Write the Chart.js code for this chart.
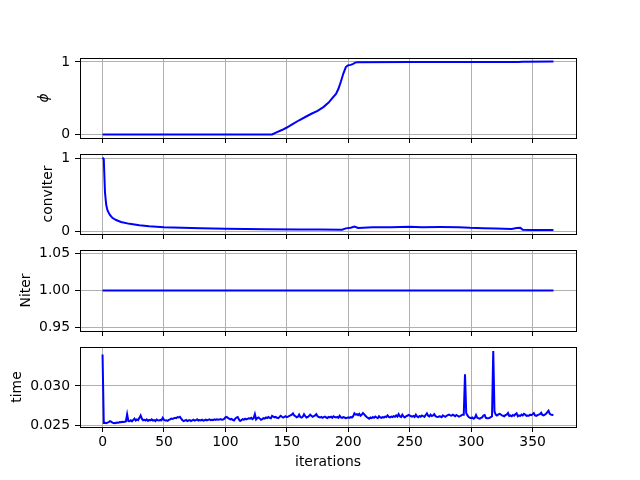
<!DOCTYPE html>
<html>
<head>
<meta charset="utf-8">
<script src="https://cdn.jsdelivr.net/npm/chart.js@4/dist/chart.umd.min.js"></script>
<style>
  body { margin: 0; background: #fff; }
  #wrap { position: relative; width: 640px; height: 480px; }
  #wrap canvas { position: absolute; left: 0; top: 0; }
</style>
</head>
<body>
<div id="wrap">
  <canvas id="phiChart" width="640" height="480"></canvas>
  <canvas id="convChart" width="640" height="480"></canvas>
  <canvas id="nIterChart" width="640" height="480"></canvas>
  <canvas id="timeChart" width="640" height="480"></canvas>
</div>
<script>
const xTicks = [0, 50, 100, 150, 200, 250, 300, 350];
const xTickLabels = ["0", "50", "100", "150", "200", "250", "300", "350"];

// phi (sparse read-off points)
const phiIters = [0, 138, 142, 146, 150, 155, 160, 165, 170, 175, 180, 184, 187, 190, 192, 194, 196, 198, 200, 202, 204, 206, 208, 250, 338, 342, 367];
const phiValues = [0, 0, 0.03, 0.06, 0.095, 0.145, 0.195, 0.24, 0.285, 0.325, 0.38, 0.44, 0.5, 0.56, 0.63, 0.73, 0.84, 0.93, 0.955, 0.96, 0.975, 0.993, 0.998, 0.999, 1.0, 1.004, 1.005];
const phiTicks = [0, 1];
const phiTickLabels = ["0", "1"];

// convIter
const convIters = [0, 1, 2, 3, 4, 5, 6, 8, 11, 15, 22, 30, 38, 50, 65, 80, 100, 133, 160, 177, 195, 198, 202, 205, 208, 212, 220, 235, 250, 260, 275, 290, 299, 310, 320, 333, 337, 340, 342, 350, 367];
const convValues = [1.009, 0.99, 0.53, 0.36, 0.29, 0.255, 0.225, 0.185, 0.155, 0.128, 0.102, 0.082, 0.07, 0.057, 0.048, 0.041, 0.036, 0.028, 0.025, 0.023, 0.022, 0.04, 0.048, 0.066, 0.046, 0.05, 0.054, 0.055, 0.062, 0.056, 0.058, 0.055, 0.047, 0.042, 0.037, 0.033, 0.045, 0.048, 0.02, 0.018, 0.018];
const convTicks = [0, 1];
const convTickLabels = ["0", "1"];

// Niter
const nIterIters = [0, 367];
const nIterValues = [1, 1];
const nIterTicks = [0.95, 1.0, 1.05];
const nIterTickLabels = ["0.95", "1.00", "1.05"];

// time, one value per iteration
const iterations = Array.from({ length: 368 }, (_, i) => i);
const timeValues = [
  0.03396, 0.02536, 0.02538, 0.02534, 0.02540, 0.02545, 0.02558, 0.02552, 0.02540, 0.02536,
  0.02532, 0.02538, 0.02542, 0.02540, 0.02546, 0.02544, 0.02550, 0.02548, 0.02552, 0.02556,
  0.02646, 0.02560, 0.02558, 0.02570, 0.02556, 0.02574, 0.02590, 0.02566, 0.02580, 0.02572,
  0.02600, 0.02630, 0.02590, 0.02570, 0.02576, 0.02566, 0.02580, 0.02562, 0.02574, 0.02568,
  0.02580, 0.02566, 0.02572, 0.02560, 0.02578, 0.02570, 0.02566, 0.02574, 0.02570, 0.02600,
  0.02576, 0.02566, 0.02570, 0.02562, 0.02574, 0.02580, 0.02590, 0.02586, 0.02594, 0.02600,
  0.02596, 0.02610, 0.02604, 0.02612, 0.02590, 0.02570, 0.02560, 0.02566, 0.02574, 0.02560,
  0.02566, 0.02572, 0.02560, 0.02568, 0.02576, 0.02564, 0.02570, 0.02582, 0.02566, 0.02572,
  0.02568, 0.02576, 0.02564, 0.02570, 0.02578, 0.02568, 0.02574, 0.02580, 0.02570, 0.02576,
  0.02572, 0.02580, 0.02574, 0.02582, 0.02576, 0.02578, 0.02584, 0.02576, 0.02580, 0.02586,
  0.02606, 0.02612, 0.02600, 0.02590, 0.02580, 0.02586, 0.02574, 0.02566, 0.02590, 0.02604,
  0.02610, 0.02580, 0.02560, 0.02570, 0.02584, 0.02576, 0.02590, 0.02580, 0.02586, 0.02594,
  0.02590, 0.02600, 0.02584, 0.02596, 0.02646, 0.02580, 0.02596, 0.02604, 0.02590, 0.02576,
  0.02584, 0.02596, 0.02590, 0.02604, 0.02598, 0.02610, 0.02600, 0.02594, 0.02624, 0.02616,
  0.02606, 0.02612, 0.02600, 0.02596, 0.02610, 0.02626, 0.02614, 0.02604, 0.02612, 0.02620,
  0.02608, 0.02614, 0.02624, 0.02630, 0.02640, 0.02656, 0.02630, 0.02620, 0.02606, 0.02614,
  0.02640, 0.02610, 0.02602, 0.02614, 0.02644, 0.02620, 0.02604, 0.02610, 0.02622, 0.02640,
  0.02626, 0.02612, 0.02620, 0.02630, 0.02646, 0.02620, 0.02610, 0.02604, 0.02612, 0.02600,
  0.02610, 0.02616, 0.02604, 0.02598, 0.02612, 0.02606, 0.02614, 0.02600, 0.02620, 0.02610,
  0.02604, 0.02612, 0.02600, 0.02626, 0.02606, 0.02600, 0.02610, 0.02604, 0.02596, 0.02600,
  0.02606, 0.02600, 0.02610, 0.02604, 0.02620, 0.02656, 0.02640, 0.02646, 0.02634, 0.02650,
  0.02626, 0.02640, 0.02660, 0.02644, 0.02626, 0.02610, 0.02600, 0.02590, 0.02604, 0.02596,
  0.02610, 0.02600, 0.02616, 0.02604, 0.02596, 0.02620, 0.02606, 0.02600, 0.02610, 0.02604,
  0.02616, 0.02610, 0.02630, 0.02612, 0.02606, 0.02616, 0.02610, 0.02622, 0.02614, 0.02630,
  0.02616, 0.02646, 0.02620, 0.02610, 0.02640, 0.02616, 0.02604, 0.02620, 0.02626, 0.02636,
  0.02630, 0.02620, 0.02616, 0.02624, 0.02612, 0.02640, 0.02616, 0.02608, 0.02624, 0.02614,
  0.02630, 0.02620, 0.02612, 0.02636, 0.02656, 0.02626, 0.02618, 0.02640, 0.02622, 0.02630,
  0.02646, 0.02620, 0.02614, 0.02610, 0.02620, 0.02616, 0.02608, 0.02630, 0.02620, 0.02612,
  0.02626, 0.02634, 0.02640, 0.02630, 0.02626, 0.02640, 0.02630, 0.02620, 0.02636, 0.02626,
  0.02616, 0.02622, 0.02630, 0.02640, 0.02640, 0.03146, 0.02660, 0.02630, 0.02610, 0.02600,
  0.02596, 0.02604, 0.02590, 0.02600, 0.02636, 0.02600, 0.02594, 0.02590, 0.02600, 0.02606,
  0.02630, 0.02636, 0.02600, 0.02596, 0.02594, 0.02600, 0.02610, 0.02620, 0.03440, 0.02680,
  0.02640, 0.02630, 0.02640, 0.02650, 0.02644, 0.02630, 0.02626, 0.02620, 0.02636, 0.02640,
  0.02660, 0.02624, 0.02630, 0.02620, 0.02636, 0.02626, 0.02644, 0.02656, 0.02620, 0.02630,
  0.02624, 0.02640, 0.02630, 0.02650, 0.02640, 0.02624, 0.02630, 0.02626, 0.02640, 0.02634,
  0.02646, 0.02660, 0.02630, 0.02624, 0.02634, 0.02640, 0.02646, 0.02664, 0.02636, 0.02630,
  0.02640, 0.02650, 0.02672, 0.02690, 0.02650, 0.02640, 0.02636, 0.02640
];
const timeTicks = [0.025, 0.03];
const timeTickLabels = ["0.025", "0.030"];

const FONT = "'DejaVu Sans', sans-serif";
const FS = 13.9;

// black box round each axes, like matplotlib spines
const frame = {
  id: "frame",
  afterDraw(chart) {
    const { ctx, chartArea: a } = chart;
    ctx.save();
    ctx.strokeStyle = "#000";
    ctx.lineWidth = 1;
    ctx.strokeRect(Math.round(a.left) + 0.5, Math.round(a.top) + 0.5,
      Math.round(a.right - a.left), Math.round(a.bottom - a.top));
    ctx.restore();
  },
};

function makePanel(id, xs, ys, cfg) {
  const points = xs.map((x, i) => ({ x: x, y: ys[i] }));
  const xH = cfg.showX ? 50 : 6;
  return new Chart(document.getElementById(id), {
    type: "line",
    data: {
      datasets: [{
        data: points,
        borderColor: "#0000ff",
        borderWidth: 2,
        pointRadius: 0,
        tension: 0,
        fill: false,
      }],
    },
    options: {
      responsive: false,
      animation: false,
      devicePixelRatio: 1,
      layout: { padding: { left: 0, right: 64, top: cfg.top, bottom: 480 - cfg.bottom - xH } },
      plugins: { legend: { display: false }, tooltip: { enabled: false } },
      scales: {
        x: {
          type: "linear",
          min: -18.35,
          max: 385.35,
          afterBuildTicks: (s) => { s.ticks = xTicks.map((v) => ({ value: v })); },
          afterFit: (s) => { s.height = xH; s.paddingLeft = 0; s.paddingRight = 0; },
          grid: { color: "#b0b0b0", lineWidth: 1, tickColor: "#000", tickLength: 5, tickWidth: 1 },
          border: { display: false },
          ticks: {
            display: cfg.showX,
            padding: 2,
            color: "#000",
            font: { family: FONT, size: FS },
            maxRotation: 0,
            callback: (v, i) => xTickLabels[i],
          },
          title: {
            display: cfg.showX,
            text: "iterations",
            color: "#000",
            font: { family: FONT, size: FS },
            padding: { top: 0, bottom: 6 },
          },
        },
        y: {
          type: "linear",
          min: cfg.min,
          max: cfg.max,
          afterBuildTicks: (s) => { s.ticks = cfg.ticks.map((v) => ({ value: v })); },
          afterFit: (s) => { s.width = 80; s.paddingTop = 0; s.paddingBottom = 0; },
          grid: { color: "#b0b0b0", lineWidth: 1, tickColor: "#000", tickLength: 5, tickWidth: 1 },
          border: { display: false },
          ticks: {
            padding: 5,
            color: "#000",
            font: { family: FONT, size: FS },
            callback: (v, i) => cfg.tickLabels[i],
          },
          title: {
            display: true,
            text: cfg.label,
            color: "#000",
            font: { family: FONT, size: FS, style: cfg.italic ? "italic" : "normal" },
            padding: { top: cfg.titlePad, bottom: 0 },
          },
        },
      },
    },
    plugins: [frame],
  });
}

makePanel("phiChart", phiIters, phiValues, {
  top: 58, bottom: 138, min: -0.05, max: 1.055,
  ticks: phiTicks, tickLabels: phiTickLabels, label: "ϕ", italic: true, titlePad: 36.5, showX: false,
});
makePanel("convChart", convIters, convValues, {
  top: 154, bottom: 234, min: -0.037, max: 1.059,
  ticks: convTicks, tickLabels: convTickLabels, label: "convIter", titlePad: 40, showX: false,
});
makePanel("nIterChart", nIterIters, nIterValues, {
  top: 250, bottom: 331, min: 0.945, max: 1.055,
  ticks: nIterTicks, tickLabels: nIterTickLabels, label: "Niter", titlePad: 18, showX: false,
});
makePanel("timeChart", iterations, timeValues, {
  top: 347, bottom: 427, min: 0.02485, max: 0.03489,
  ticks: timeTicks, tickLabels: timeTickLabels, label: "time", titlePad: 9, showX: true,
});
</script>
</body>
</html>
